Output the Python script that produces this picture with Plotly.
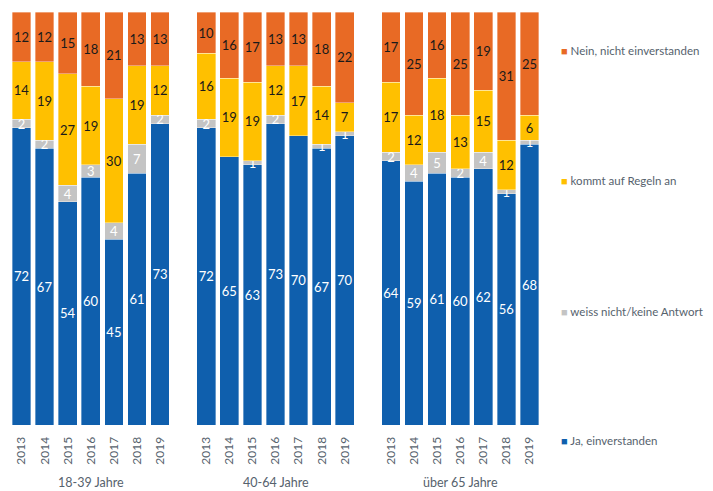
import plotly.graph_objects as go

years = ["2013", "2014", "2015", "2016", "2017", "2018", "2019"]
groups = ["18-39 Jahre", "40-64 Jahre", "über 65 Jahre"]

ja = [72, 67, 54, 60, 45, 61, 73,
      72, 65, 63, 73, 70, 67, 70,
      64, 59, 61, 60, 62, 56, 68]
weiss = [2, 2, 4, 3, 4, 7, 2,
         2, 0, 1, 2, 0, 1, 1,
         2, 4, 5, 2, 4, 1, 1]
kommt = [14, 19, 27, 19, 30, 19, 12,
         16, 19, 19, 12, 17, 14, 7,
         17, 12, 18, 13, 15, 12, 6]
nein = [12, 12, 15, 18, 21, 13, 13,
        10, 16, 17, 13, 13, 18, 22,
        17, 25, 16, 25, 19, 31, 25]

series = [
    ("Ja, einverstanden", ja, "#0f5fad", "white"),
    ("weiss nicht/keine Antwort", weiss, "#c4c4c4", "white"),
    ("kommt auf Regeln an", kommt, "#ffc000", "#1a1a1a"),
    ("Nein, nicht einverstanden", nein, "#e86a25", "#1a1a1a"),
]

FONT = "Lato, Roboto, sans-serif"
GREY = "#56626d"

# x positions: 7 bars per group, one empty slot between groups
xpos = [g * 8 + i for g in range(len(groups)) for i in range(len(years))]
xlabels = [y for g in groups for y in years]

fig = go.Figure()
for name, vals, color, tcolor in series:
    fig.add_trace(go.Bar(
        x=xpos, y=vals, name=name,
        marker=dict(color=color, line=dict(color="rgba(255,255,255,0.6)", width=0.6)),
        text=[str(v) if v > 0 else "" for v in vals],
        textposition="inside", insidetextanchor="middle", textangle=0,
        constraintext="none",
        textfont=dict(family=FONT, size=13, color=tcolor),
        width=0.81, showlegend=False, hoverinfo="skip",
    ))

# page body has an 8px offset, so the figure is sized to fit the window
fig.update_layout(
    barmode="stack",
    width=705, height=483,
    margin=dict(l=2, r=172, t=4, b=66),
    plot_bgcolor="white", paper_bgcolor="white",
    font=dict(family=FONT, color=GREY),
    xaxis=dict(range=[-0.5, 22.5], tickvals=xpos, ticktext=xlabels,
               tickangle=-90, tickfont=dict(size=12, color=GREY),
               ticks="outside", ticklen=6, tickcolor="white",
               showgrid=False, zeroline=False, showline=False, fixedrange=True),
    yaxis=dict(range=[0, 100], visible=False, fixedrange=True),
)

# group labels
for g, label in enumerate(groups):
    fig.add_annotation(x=g * 8 + 3, xref="x", y=-0.1404, yref="paper",
                       text=label, showarrow=False, yanchor="middle",
                       font=dict(size=12.5, color=GREY))

# legend as annotations (Nein on top)
leg_y = [0.9056, 0.5908, 0.276, -0.0387]
for (name, vals, color, _), yy in zip(reversed(series), leg_y):
    fig.add_annotation(x=1.033, xref="paper", y=yy, yref="paper",
                       xanchor="left", yanchor="middle", showarrow=False,
                       text=f"<span style='color:{color};font-size:11px'>■</span> {name}",
                       font=dict(size=11.5, color=GREY))

fig.write_html("out.html")
